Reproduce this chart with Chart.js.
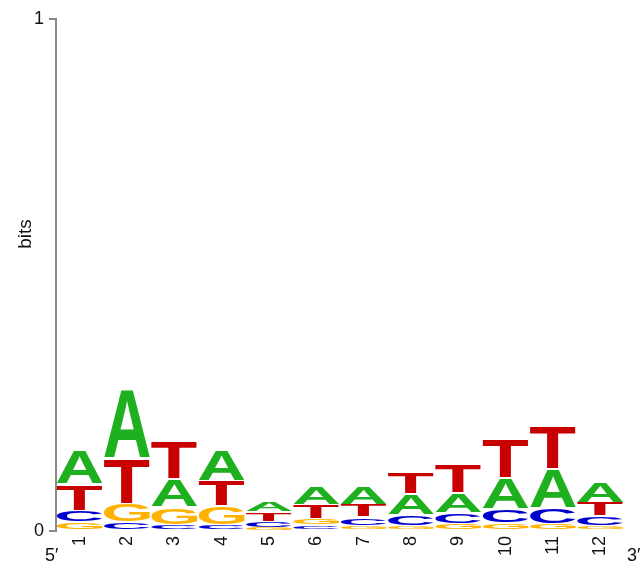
<!DOCTYPE html>
<html>
<head>
<meta charset="utf-8">
<script src="https://cdn.jsdelivr.net/npm/chart.js@4.4.1/dist/chart.umd.min.js"></script>
<style>
  body { margin: 0; background: #fff; }
  #logo { display: block; }
</style>
</head>
<body>
<canvas id="logo" width="643" height="563"></canvas>
<script>
// positions along the motif
const positions = ['1', '2', '3', '4', '5', '6', '7', '8', '9', '10', '11', '12'];

// letter heights in bits
const bitsA = [0.066, 0.134, 0.054, 0.060, 0.021, 0.035, 0.037, 0.041, 0.039, 0.060, 0.076, 0.041];
const bitsC = [0.023, 0.017, 0.012, 0.012, 0.012, 0.011, 0.017, 0.021, 0.021, 0.027, 0.031, 0.019];
const bitsG = [0.017, 0.037, 0.035, 0.037, 0.006, 0.013, 0.010, 0.010, 0.014, 0.016, 0.014, 0.010];
const bitsT = [0.052, 0.089, 0.074, 0.050, 0.019, 0.027, 0.025, 0.043, 0.056, 0.076, 0.083, 0.027];

const yTicks = [0, 1];

const letters = ['A', 'C', 'G', 'T'];
const letterBits = { A: bitsA, C: bitsC, G: bitsG, T: bitsT };
const letterColors = { A: '#1fb01f', C: '#0000cc', G: '#ffb300', T: '#c80000' };

// stack each column smallest letter at the bottom -> floating bars [lo, hi]
const stacks = { A: [], C: [], G: [], T: [] };
positions.forEach((p, i) => {
  const order = letters.slice().sort((a, b) => letterBits[a][i] - letterBits[b][i]);
  let lo = 0;
  order.forEach(l => {
    const hi = lo + letterBits[l][i];
    stacks[l][i] = [lo, hi];
    lo = hi;
  });
});

const datasets = letters.map(l => ({
  label: l,
  data: stacks[l],
  backgroundColor: 'rgba(0,0,0,0)',
  borderWidth: 0,
  grouped: false,
  barPercentage: 0.97,
  categoryPercentage: 1.0
}));

function drawLetter(c, ch, color, x, y, w, h) {
  if (h < 0.5) return;
  c.save();
  c.font = 'bold 100px "Liberation Sans", Arial, sans-serif';
  c.textAlign = 'left';
  c.textBaseline = 'alphabetic';
  const m = c.measureText(ch);
  const gw = m.actualBoundingBoxLeft + m.actualBoundingBoxRight;
  const gh = m.actualBoundingBoxAscent + m.actualBoundingBoxDescent;
  const inset = h > 4 ? 0.8 : 0;
  c.translate(x, y + inset);
  c.scale(w / gw, (h - 2 * inset) / gh);
  c.fillStyle = color;
  c.fillText(ch, m.actualBoundingBoxLeft, m.actualBoundingBoxAscent);
  c.restore();
}

const logoLetters = {
  id: 'logoLetters',
  afterDatasetsDraw(chart) {
    const c = chart.ctx;
    chart.data.datasets.forEach((ds, di) => {
      const meta = chart.getDatasetMeta(di);
      meta.data.forEach(bar => {
        const p = bar.getProps(['x', 'y', 'base', 'width'], true);
        const top = Math.min(p.y, p.base);
        const h = Math.abs(p.base - p.y);
        drawLetter(c, ds.label, letterColors[ds.label], p.x - p.width / 2, top, p.width, h);
      });
    });
  },
  afterDraw(chart) {
    const c = chart.ctx;
    c.save();
    c.fillStyle = '#111';
    c.font = '18px "Liberation Sans", Arial, sans-serif';
    c.textBaseline = 'alphabetic';
    c.textAlign = 'left';
    c.fillText('5\u2032', 45, 561);
    c.fillText('3\u2032', 627, 561);
    // y title
    c.font = '19px "Liberation Sans", Arial, sans-serif';
    c.translate(31, 234);
    c.rotate(-Math.PI / 2);
    c.textAlign = 'center';
    c.fillText('bits', 0, 0);
    c.restore();
  }
};

const ctx = document.getElementById('logo').getContext('2d');

const logoChart = new Chart(ctx, {
  type: 'bar',
  data: {
    labels: positions,
    datasets: datasets
  },
  options: {
    responsive: false,
    animation: false,
    layout: { padding: { left: 0, right: 19, top: 19, bottom: 0 } },
    plugins: {
      legend: { display: false },
      tooltip: { enabled: false }
    },
    scales: {
      x: {
        grid: { display: false },
        border: { display: false },
        ticks: {
          color: '#111',
          font: { family: '"Liberation Sans", Arial, sans-serif', size: 18 },
          minRotation: 90,
          maxRotation: 90,
          padding: -3,
          autoSkip: false
        },
        afterFit(scale) { scale.height = 32; }
      },
      y: {
        min: 0,
        max: 1,
        afterBuildTicks(scale) { scale.ticks = yTicks.map(v => ({ value: v })); },
        grid: {
          drawOnChartArea: false,
          drawTicks: true,
          tickLength: 7,
          color: '#888',
          lineWidth: 2
        },
        border: { display: true, color: '#888', width: 2 },
        ticks: {
          color: '#111',
          font: { family: '"Liberation Sans", Arial, sans-serif', size: 18 },
          padding: 5
        },
        afterFit(scale) { scale.width = 56; }
      }
    }
  },
  plugins: [logoLetters]
});
</script>
</body>
</html>
